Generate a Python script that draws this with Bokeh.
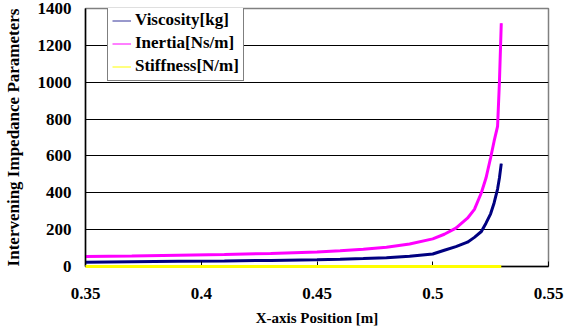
from bokeh.plotting import figure
from bokeh.models import Range1d, FixedTicker, Legend, LegendItem
from bokeh.embed import file_html
from bokeh.resources import INLINE

x_pos = [0.35, 0.37, 0.39, 0.41, 0.43, 0.45, 0.46, 0.47, 0.48, 0.49, 0.5, 0.505,
         0.51, 0.515, 0.518, 0.521, 0.523, 0.525, 0.5265, 0.528, 0.5288, 0.5296]
viscosity = [23, 26, 28, 30, 33, 36, 39, 43, 48, 55, 68, 88,
             108, 132, 158, 190, 235, 286, 345, 420, 480, 558]
inertia = [54, 57, 61, 65, 71, 79, 85, 93, 105, 122, 150, 175,
           208, 262, 310, 400, 480, 590, 680, 760, 1000, 1320]
stiffness = [0, 0, 0, 0, 0, 0, 0, 0, 0, 0, 0, 0,
             0, 0, 0, 0, 0, 0, 0, 0, 0, 0]

x_ticks = [0.35, 0.4, 0.45, 0.5, 0.55]
x_tick_labels = ["0.35", "0.4", "0.45", "0.5", "0.55"]
y_ticks = [0, 200, 400, 600, 800, 1000, 1200, 1400]

series_names = ["Viscosity[kg]", "Inertia[Ns/m]", "Stiffness[N/m]"]
series_colors = ["#000080", "#FF00FF", "#FFFF00"]
legend_colors = ["#333399", "#FF00FF", "#FFFF00"]

FONT = "'Times New Roman', 'Liberation Serif', serif"

p = figure(width=565, height=330, output_backend="svg", toolbar_location=None,
           x_range=Range1d(0.35, 0.55), y_range=Range1d(0, 1400),
           min_border_left=83, min_border_right=17, min_border_top=8,
           min_border_bottom=64)

p.background_fill_color = "white"
p.border_fill_color = "white"
p.outline_line_color = "#808080"
p.outline_line_width = 1.5

series = [viscosity, inertia, stiffness]
# thin lines (used as legend swatches), covered by the thick data lines
thin = [p.line(x_pos, v, line_color=c, line_width=1) for v, c in zip(series, legend_colors)]
p.line(x_pos, viscosity, line_color=series_colors[0], line_width=3)
p.line(x_pos, inertia, line_color=series_colors[1], line_width=3)
# stiffness lies on the x axis; draw it above the axis line as in the reference
p.line(x_pos, stiffness, line_color=series_colors[2], line_width=3, level="overlay")

items = [LegendItem(label=n, renderers=[r]) for n, r in zip(series_names, thin)]
legend = Legend(items=items, location=(22, 185))
legend.label_text_font = FONT
legend.label_text_font_style = "bold"
legend.label_text_font_size = "17px"
legend.label_text_color = "black"
legend.border_line_color = "black"
legend.border_line_width = 1
legend.background_fill_color = "white"
legend.background_fill_alpha = 1
legend.glyph_width = 19
legend.glyph_height = 19
legend.label_height = 19
legend.label_standoff = 4
legend.spacing = 3
legend.padding = 4
legend.margin = 0
p.add_layout(legend, "center")

# grid
p.xgrid.grid_line_color = None
p.ygrid.ticker = FixedTicker(ticks=y_ticks)
p.ygrid.grid_line_color = "black"
p.ygrid.grid_line_width = 1

# axes
p.xaxis.ticker = FixedTicker(ticks=x_ticks)
p.xaxis.major_label_overrides = {t: l for t, l in zip(x_ticks, x_tick_labels)}
p.yaxis.ticker = FixedTicker(ticks=y_ticks)
for ax in [p.xaxis, p.yaxis]:
    ax.axis_line_color = "black"
    ax.axis_line_width = 1.5
    ax.major_tick_line_color = "black"
    ax.minor_tick_line_color = None
    ax.major_label_text_font = FONT
    ax.major_label_text_font_style = "bold"
    ax.major_label_text_font_size = "17px"
    ax.major_label_text_color = "black"
    ax.axis_label_text_font = FONT
    ax.axis_label_text_font_style = "bold"
    ax.axis_label_text_color = "black"

p.xaxis.axis_label_text_font_size = "15px"
p.yaxis.axis_label_text_font_size = "17px"

p.xaxis.major_tick_in = 5
p.xaxis.major_tick_out = 0
p.xaxis.major_label_standoff = 21
p.xaxis.axis_label_standoff = 8
p.xaxis.axis_label = "X-axis Position [m]"

p.yaxis.major_tick_in = 0
p.yaxis.major_tick_out = 0
p.yaxis.major_label_standoff = 14
p.yaxis.axis_label = "Intervening Impedance Parameters"
p.yaxis.axis_label_standoff = 12

open("out.html", "w").write(file_html(p, INLINE))
